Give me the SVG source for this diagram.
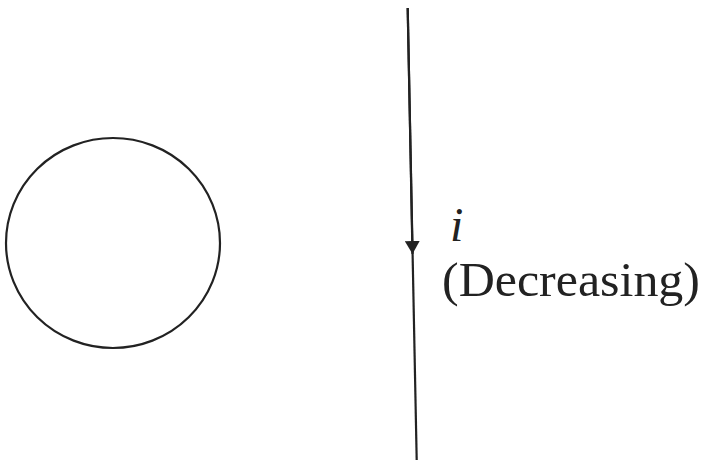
<svg xmlns="http://www.w3.org/2000/svg" width="704" height="463" viewBox="0 0 704 463">
<style>
.ln{stroke:#222;stroke-width:2.2;fill:none}
.t{font-family:"Liberation Serif","Times New Roman",serif;font-size:48px;fill:#222}
</style>
<defs>
<marker id="ah" markerWidth="13" markerHeight="15" refX="13" refY="7.5" orient="auto" markerUnits="userSpaceOnUse">
<path d="M0,0 L13,7.5 L0,15 Z" fill="#222"/>
</marker>
</defs>
<rect width="704" height="463" fill="#fff"/>
<g id="loop">
<ellipse class="ln" cx="113" cy="243" rx="107" ry="105"/>
</g>
<g id="connectors">
<line class="ln" x1="407.7" y1="8" x2="416.7" y2="460"/>
<line class="ln" x1="407.7" y1="8" x2="412.5" y2="254" marker-end="url(#ah)"/>
</g>
<g id="label">
<text class="t" x="450" y="241" font-style="italic">i</text>
<text class="t" x="442" y="296" textLength="258" lengthAdjust="spacingAndGlyphs">(Decreasing)</text>
</g>
</svg>
